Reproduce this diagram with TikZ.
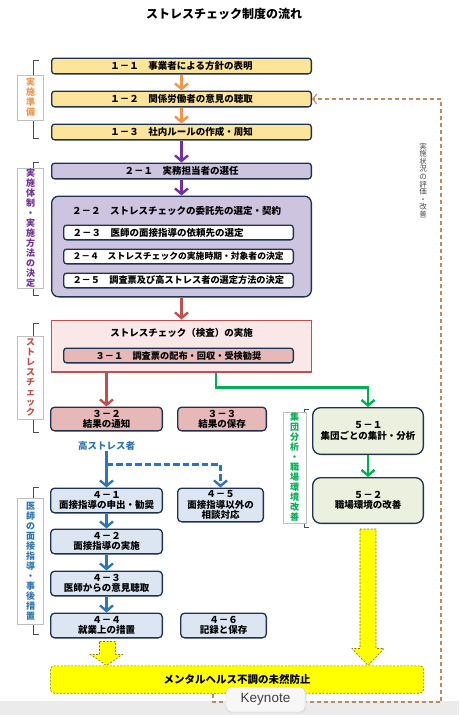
\documentclass[tikz,border=0pt]{standalone}
\usepackage{fontspec}
\setmainfont{Noto Sans CJK JP}
\newfontfamily\tipfont{Liberation Sans}
\usepackage{xcolor}
\usetikzlibrary{arrows.meta,positioning,calc}

\definecolor{navy}{RGB}{31,51,80}
\definecolor{yfill}{RGB}{252,228,152}
\definecolor{pfill}{RGB}{205,196,224}
\definecolor{sfill}{RGB}{250,231,231}
\definecolor{rfill}{RGB}{230,184,183}
\definecolor{bfill}{RGB}{220,230,242}
\definecolor{gfill}{RGB}{235,241,222}
\definecolor{orangeA}{RGB}{240,150,75}
\definecolor{purpleA}{RGB}{112,48,160}
\definecolor{redA}{RGB}{192,80,77}
\definecolor{blueA}{RGB}{46,117,182}
\definecolor{greenA}{RGB}{0,176,80}
\definecolor{yellowA}{RGB}{255,255,0}
\definecolor{olive}{RGB}{130,120,20}
\definecolor{fbrown}{RGB}{195,135,95}

\newcommand{\boxfont}{\bfseries\fontsize{9.5}{10.2}\selectfont}

\begin{document}
\begin{tikzpicture}[
    x=1pt, y=1pt,
    node distance=16pt,
    box/.style={rectangle, rounded corners=3pt, draw=navy, line width=1.3pt, inner sep=0pt, align=center, font=\boxfont},
    ybox/.style={box, fill=yfill, minimum width=259.7pt, minimum height=15.7pt},
    pbox/.style={box, fill=pfill, minimum width=259.7pt, minimum height=15.7pt},
    wbox/.style={box, fill=white, minimum width=229.7pt, minimum height=14.7pt, text width=212pt, align=left},
    rbox/.style={box, rounded corners=4pt, fill=rfill, minimum height=23.7pt},
    bbox/.style={box, rounded corners=4pt, fill=bfill, minimum width=111.7pt, minimum height=24.7pt},
    gbox/.style={box, rounded corners=8pt, fill=gfill, minimum width=110.7pt},
    sidebox/.style={rectangle, draw=black!25, fill=white, minimum width=26pt, inner sep=1pt, align=center, font=\bfseries\fontsize{9}{10}\selectfont},
    brkt/.style={draw=black!70, line width=0.7pt},
    arrow/.style={line width=2.8pt, -{Straight Barb[length=5.5pt, width=13pt, line width=2.4pt]}},
    oarrow/.style={arrow, draw=orangeA},
    parrow/.style={arrow, draw=purpleA},
    rarrow/.style={arrow, draw=redA},
    barrow/.style={arrow, draw=blueA},
    garrow/.style={arrow, draw=greenA},
    bdash/.style={barrow, dash pattern=on 6.5pt off 3pt},
    fback/.style={draw=fbrown, line width=1.2pt, dash pattern=on 4pt off 3pt, -{Straight Barb[length=4pt, width=10pt]}},
    yblock/.style={fill=yellowA, draw=olive, line width=0.6pt, dash pattern=on 2pt off 1.5pt}
]
    \useasboundingbox (0,0) rectangle (459,-715);
    \fill[black!8] (0,-701) rectangle (459,-715);

    \node[font=\bfseries\fontsize{12}{14}\selectfont] (title) at (224,-14) {ストレスチェック制度の流れ};

    % 1: preparation
    \node[ybox] (b11) at (181.5,-66) {１－１　事業者による方針の表明};
    \node[ybox, below=of b11] (b12) {１－２　関係労働者の意見の聴取};
    \node[ybox, below=of b12] (b13) {１－３　社内ルールの作成・周知};

    % 2: system and method
    \node[pbox, below=22pt of b13] (b21) {２－１　実務担当者の選任};
    \node[box, rounded corners=7pt, fill=pfill, minimum width=259.7pt, minimum height=100.7pt, below=of b21] (b22) {};
    \node[anchor=west, font=\boxfont, inner sep=0pt] (t22) at ([xshift=21pt, yshift=-15pt]b22.north west) {２－２　ストレスチェックの委託先の選定・契約};
    \node[wbox, below=29pt of b22.north, xshift=-3pt] (b23) {２－３　医師の面接指導の依頼先の選定};
    \node[wbox, below=8pt of b23, font=\bfseries\fontsize{8.8}{10}\selectfont] (b24) {２－４　ストレスチェックの実施時期・対象者の決定};
    \node[wbox, below=8pt of b24, font=\bfseries\fontsize{9.2}{10}\selectfont] (b25) {２－５　調査票及び高ストレス者の選定方法の決定};

    % 3: stress check
    \node[rectangle, draw=redA, line width=1.3pt, fill=sfill, minimum width=259.7pt, minimum height=51.7pt, below=22pt of b22] (stress) {};
    \node[font=\boxfont, inner sep=0pt] (tstress) at ([yshift=-13pt]stress.north) {ストレスチェック（検査）の実施};
    \node[box, fill=rfill, minimum width=229.7pt, minimum height=14.7pt, font=\bfseries\fontsize{9.2}{10}\selectfont] (b31) at ([xshift=-3pt, yshift=-36pt]stress.north) {３－１　調査票の配布・回収・受検勧奨};
    \node[rbox, minimum width=111.7pt, anchor=north west] (b32) at ([xshift=-1pt, yshift=-34pt]stress.south west) {３－２\\結果の通知};
    \node[rbox, minimum width=88.7pt, anchor=west] (b33) at ([xshift=14pt]b32.east) {３－３\\結果の保存};

    % 4: interview guidance
    \node[font=\boxfont, text=blueA, inner sep=1pt] (hs) at ([yshift=-14pt]b32.south) {高ストレス者};
    \node[bbox, anchor=north] (b41) at ([yshift=-56pt]b32.south) {４－１\\面接指導の申出・勧奨};
    \node[bbox, minimum width=85.7pt, minimum height=33.7pt, anchor=north west] (b45) at ([xshift=14pt]b41.north east) {４－５\\面接指導以外の\\相談対応};
    \node[bbox, below=15pt of b41] (b42) {４－２\\面接指導の実施};
    \node[bbox, below=of b42] (b43) {４－３\\医師からの意見聴取};
    \node[bbox, below=of b43] (b44) {４－４\\就業上の措置};
    \node[bbox, minimum width=85.7pt, anchor=west] (b46) at ([xshift=17pt]b44.east) {４－６\\記録と保存};

    % 5: group analysis
    \node[gbox, minimum height=46.7pt] (b51) at (368,-431) {５－１\\集団ごとの集計・分析};
    \node[gbox, minimum height=45.7pt, below=22pt of b51] (b52) {５－２\\職場環境の改善};

    % goal
    \node[rectangle, rounded corners=4pt, fill=yellowA, draw=olive, line width=0.6pt, dash pattern=on 2pt off 1.5pt, minimum width=373.4pt, minimum height=27.4pt, font=\bfseries\fontsize{10.5}{12}\selectfont, anchor=north west] (final) at ([yshift=-27pt]b44.south west) {メンタルヘルス不調の未然防止};

    % side labels
    \draw[brkt] (39,-60) -- (33,-60) -- (33,-138) -- (39,-138);
    \node[sidebox, text=orangeA, minimum height=45pt] (s1) at (30.5,-97.5) {実\\施\\準\\備};
    \draw[brkt] (39,-162) -- (33,-162) -- (33,-295) -- (39,-295);
    \node[sidebox, text=purpleA, minimum height=120pt] (s2) at (30.5,-228) {実\\施\\体\\制\\・\\実\\施\\方\\法\\の\\決\\定};
    \draw[brkt] (39,-323) -- (33,-323) -- (33,-432) -- (39,-432);
    \node[sidebox, text=redA, minimum height=83pt] (s3) at (30.5,-377.5) {ス\\ト\\レ\\ス\\チ\\ェ\\ッ\\ク};
    \draw[brkt] (39,-487) -- (33,-487) -- (33,-634) -- (39,-634);
    \node[sidebox, text=blueA, minimum height=126pt] (s4) at (30.5,-561) {医\\師\\の\\面\\接\\指\\導\\・\\事\\後\\措\\置};
    \draw[brkt] (309,-409) -- (304,-409) -- (304,-527) -- (309,-527);
    \node[sidebox, text=greenA, minimum width=23pt, minimum height=109pt] (s5) at (294.5,-467.5) {集\\団\\分\\析\\・\\職\\場\\環\\境\\改\\善};
    \node[align=center, text=black!70, font=\fontsize{7.5}{7.6}\selectfont] (eval) at (423,-180.5) {実\\施\\状\\況\\の\\評\\価\\・\\改\\善};

    % connectors
    \draw[oarrow] (b11) -- (b12);
    \draw[oarrow] (b12) -- (b13);
    \draw[parrow] (b13) -- (b21);
    \draw[parrow] (b21) -- (b22);
    \draw[rarrow] (b22) -- (stress);
    \draw[rarrow] (stress.south -| b32.north) -- (b32.north);
    \draw[garrow] ([xshift=34.5pt]stress.south) -- ++(0,-15) -| (b51.north);
    \draw[barrow] (hs) -- (b41);
    \coordinate (split) at ($(b32.south)+(0,-33)$);
    \draw[bdash] (split) -| (b45.north);
    \draw[barrow] (b41) -- (b42);
    \draw[barrow] (b42) -- (b43);
    \draw[barrow] (b43) -- (b44);
    \draw[garrow] (b51) -- (b52);

    % block arrows into the goal
    \coordinate (ytip1) at (final.north -| b44.south);
    \draw[yblock] ($(b44.south)+(-7,-3)$) -- ($(b44.south)+(9,-3)$) -- ($(ytip1)+(9,11)$) -- ($(ytip1)+(16,11)$) -- (ytip1) -- ($(ytip1)+(-16,11)$) -- ($(ytip1)+(-7,11)$) -- cycle;
    \coordinate (ytip2) at (final.north -| b52.south);
    \draw[yblock] ($(b52.south)+(-8,-5)$) -- ($(b52.south)+(8,-5)$) -- ($(ytip2)+(8,17)$) -- ($(ytip2)+(16,17)$) -- (ytip2) -- ($(ytip2)+(-16,17)$) -- ($(ytip2)+(-8,17)$) -- cycle;

    % feedback loop
    \coordinate (fbc) at (441,-702);
    \draw[fback] ([xshift=-24pt]final.south) |- (fbc) |- (b12.east);

    % tooltip
    \fill[black!10, rounded corners=5pt] (227,-688.5) rectangle (306.5,-713.5);
    \node[rectangle, rounded corners=5pt, draw=black!20, fill=black!3, minimum width=79pt, minimum height=25pt, text=black!75, font=\tipfont\fontsize{13.5}{15}\selectfont] (tip) at (265.5,-699.5) {Keynote};
\end{tikzpicture}
\end{document}
